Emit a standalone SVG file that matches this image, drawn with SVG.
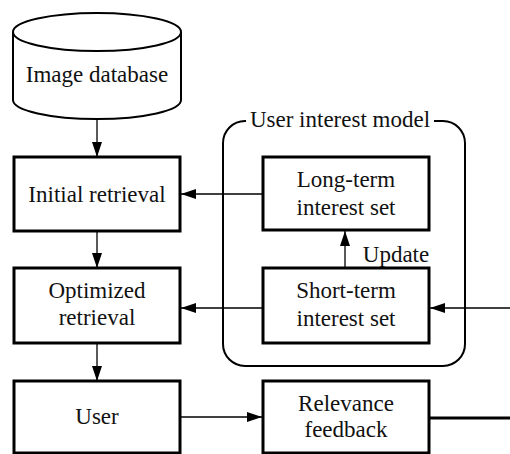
<svg xmlns="http://www.w3.org/2000/svg" width="510" height="454" viewBox="0 0 510 454">
<defs>
<style>
.box{fill:#fff;stroke:#000;stroke-width:3}
.cyl{fill:#fff;stroke:#000;stroke-width:2}
.cont{fill:none;stroke:#000;stroke-width:2}
.t{font-size:23px;fill:#111;text-anchor:middle}
.c{fill:none;stroke:#000;stroke-width:1.3}
.thick{fill:none;stroke:#000;stroke-width:3}
</style>
<marker id="ah" viewBox="0 0 15 10" refX="15" refY="5" markerWidth="15" markerHeight="10" markerUnits="userSpaceOnUse" orient="auto">
<path d="M0,0 L15,5 L0,10 Z" fill="#000"/>
</marker>
</defs>
<g font-family="Liberation Serif, Tinos, Times New Roman, serif">
<g id="container">
<rect class="cont" x="223" y="121" width="242" height="245" rx="22" ry="22"/>
<rect x="246" y="110" width="188" height="24" fill="#fff"/>
<text class="t" x="340" y="127">User interest model</text>
</g>
<g id="connectors">
<line class="c" x1="97" y1="119" x2="97" y2="157" marker-end="url(#ah)"/>
<line class="c" x1="97" y1="231" x2="97" y2="268" marker-end="url(#ah)"/>
<line class="c" x1="97" y1="343" x2="97" y2="381" marker-end="url(#ah)"/>
<line class="c" x1="262" y1="194" x2="181" y2="194" marker-end="url(#ah)"/>
<line class="c" x1="262" y1="308" x2="181" y2="308" marker-end="url(#ah)"/>
<line class="c" x1="345" y1="268" x2="345" y2="231" marker-end="url(#ah)"/>
<line class="c" x1="510" y1="308" x2="430" y2="308" marker-end="url(#ah)"/>
<line class="c" x1="180" y1="417" x2="262" y2="417" marker-end="url(#ah)"/>
<line class="thick" x1="430" y1="418" x2="510" y2="418"/>
<text class="t" x="396" y="262">Update</text>
</g>
<g id="image-database">
<path class="cyl" d="M13,32 L13,100 A84,19 0 0 0 181,100 L181,32"/>
<ellipse class="cyl" cx="97" cy="32" rx="84" ry="19"/>
<text class="t" x="97" y="82">Image database</text>
</g>
<g id="initial-retrieval">
<rect class="box" x="14" y="157" width="166" height="74"/>
<text class="t" x="97" y="202">Initial retrieval</text>
</g>
<g id="optimized-retrieval">
<rect class="box" x="14" y="268" width="166" height="75"/>
<text class="t" x="97" y="298">Optimized</text>
<text class="t" x="97" y="325">retrieval</text>
</g>
<g id="user">
<rect class="box" x="14" y="381" width="166" height="72"/>
<text class="t" x="97" y="424">User</text>
</g>
<g id="long-term">
<rect class="box" x="263" y="157" width="166" height="73"/>
<text class="t" x="346" y="187">Long-term</text>
<text class="t" x="346" y="215">interest set</text>
</g>
<g id="short-term">
<rect class="box" x="263" y="268" width="166" height="75"/>
<text class="t" x="346" y="298">Short-term</text>
<text class="t" x="346" y="326">interest set</text>
</g>
<g id="relevance-feedback">
<rect class="box" x="263" y="381" width="166" height="72"/>
<text class="t" x="346" y="411">Relevance</text>
<text class="t" x="346" y="437">feedback</text>
</g>
</g>
</svg>
